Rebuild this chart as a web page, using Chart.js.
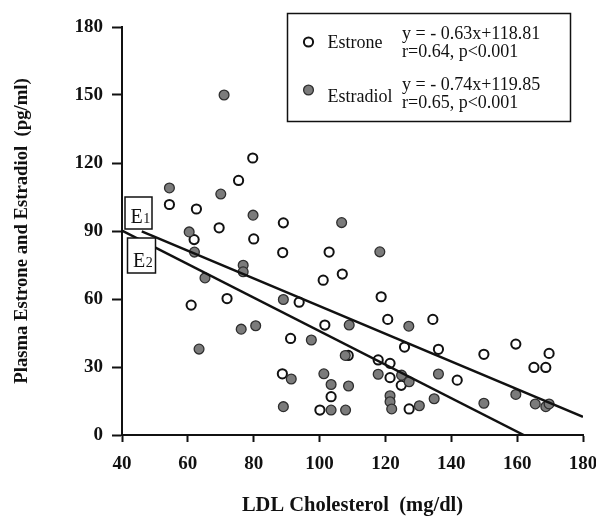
<!DOCTYPE html>
<html>
<head>
<meta charset="utf-8">
<script src="https://cdn.jsdelivr.net/npm/chart.js@4.4.1/dist/chart.umd.min.js"></script>
<style>
html,body{margin:0;padding:0;background:#fff;}
#wrap{position:relative;width:596px;height:516px;}
</style>
</head>
<body>
<div id="wrap"><canvas id="c" width="596" height="516"></canvas></div>
<script>
// ---- data ----
const xTicks = [40, 60, 80, 100, 120, 140, 160, 180];
const yTicks = [0, 30, 60, 90, 120, 150, 180];

const estroneX = [79.7, 75.4, 54.4, 62.6, 69.5, 61.9, 80.0, 61.0, 71.9, 89.0, 88.8, 102.9, 101.1, 106.9, 118.7, 93.8, 101.6, 120.7, 134.4, 91.2, 125.8, 136.1, 108.7, 117.8, 121.4, 88.7, 121.4, 124.8, 103.5, 100.1, 127.2, 141.8, 149.9, 159.6, 169.7, 165.1, 168.7];
const estroneY = [122.2, 112.3, 101.7, 99.7, 91.4, 86.2, 86.5, 57.3, 60.2, 93.6, 80.5, 80.7, 68.3, 71.0, 61.0, 58.6, 48.5, 51.0, 51.0, 42.6, 38.8, 37.8, 35.1, 33.1, 31.6, 27.0, 25.3, 21.9, 16.9, 11.0, 11.5, 24.2, 35.6, 40.1, 36.0, 29.8, 29.8];

const estradiolX = [71.0, 54.4, 70.0, 79.8, 60.4, 62.0, 76.8, 76.8, 65.2, 76.2, 80.6, 63.4, 106.7, 118.3, 89.0, 109.0, 127.1, 97.5, 107.8, 91.4, 101.3, 117.8, 124.9, 127.2, 136.1, 103.5, 108.8, 89.0, 103.5, 107.9, 121.4, 121.4, 121.9, 130.3, 134.8, 149.9, 159.6, 165.5, 168.7, 169.7];
const estradiolY = [150.0, 109.0, 106.3, 97.0, 89.6, 80.7, 74.9, 72.0, 69.3, 46.7, 48.2, 37.9, 93.7, 80.8, 59.8, 48.5, 48.0, 41.9, 35.1, 24.7, 27.0, 26.8, 26.4, 23.5, 26.9, 22.3, 21.6, 12.5, 11.0, 11.0, 17.3, 14.7, 11.5, 12.9, 16.0, 14.0, 17.9, 13.7, 12.5, 13.7];

// regression lines as drawn (end points)
const estroneLineX = [46, 180];
const estroneLineY = [89.8, 8];
const estradiolLineX = [40, 162];
const estradiolLineY = [90.2, 0];

const seriesNames = ["Estrone", "Estradiol"];
const equations = ["y = - 0.63x+118.81", "y = - 0.74x+119.85"];
const stats = ["r=0.64, p<0.001", "r=0.65, p<0.001"];
const lineTags = [["E", "1"], ["E", "2"]];

const xTitle = "LDL Cholesterol  (mg/dl)";
const yTitle = "Plasma Estrone and Estradiol  (pg/ml)";

// ---- helpers ----
const zip = (xs, ys) => xs.map((x, i) => ({x: x, y: ys[i]}));
const SERIF = "'Liberation Serif', 'Times New Roman', serif";

const openStyle = {bg: '#ffffff', border: '#111111', bw: 2, r: 4.6};
const fillStyle = {bg: '#7b7b7b', border: '#2e2e2e', bw: 1.3, r: 4.9};

function drawMarker(ctx, x, y, s) {
  ctx.beginPath();
  ctx.arc(x, y, s.r, 0, Math.PI * 2);
  ctx.fillStyle = s.bg;
  ctx.fill();
  ctx.lineWidth = s.bw;
  ctx.strokeStyle = s.border;
  ctx.stroke();
}

const annotations = {
  id: 'annotations',
  afterDatasetsDraw(chart) {
    const ctx = chart.ctx;
    const xs = chart.scales.x, ys = chart.scales.y;
    ctx.save();
    // E1 / E2 tag boxes at the start of the regression lines
    const x0 = xs.getPixelForValue(40);
    const y90 = ys.getPixelForValue(90);
    const boxes = [
      {dx: 3, dy: -34, w: 27, h: 32},
      {dx: 5.5, dy: 7, w: 28, h: 35}
    ];
    boxes.forEach((b, i) => {
      const bx = x0 + b.dx, by = y90 + b.dy;
      ctx.fillStyle = '#fff';
      ctx.fillRect(bx, by, b.w, b.h);
      ctx.lineWidth = 1.5;
      ctx.strokeStyle = '#111';
      ctx.strokeRect(bx, by, b.w, b.h);
      ctx.fillStyle = '#111';
      ctx.textBaseline = 'alphabetic';
      ctx.textAlign = 'left';
      ctx.font = "20px " + SERIF;
      const base = by + b.h - 6.5;
      ctx.fillText(lineTags[i][0], bx + 5.5, base);
      const ew = ctx.measureText(lineTags[i][0]).width;
      ctx.font = "14px " + SERIF;
      ctx.fillText(lineTags[i][1], bx + 5.5 + ew + 0.5, base);
    });

    // legend box
    const L = 287.5, T = 13.5, W = 283, H = 108;
    ctx.fillStyle = '#fff';
    ctx.fillRect(L, T, W, H);
    ctx.lineWidth = 1.5;
    ctx.strokeStyle = '#111';
    ctx.strokeRect(L, T, W, H);
    const rows = [
      {my: 42, nameBase: 48, eqBase: 38.5, stBase: 56.5, style: openStyle},
      {my: 90, nameBase: 101.5, eqBase: 90, stBase: 108, style: fillStyle}
    ];
    rows.forEach((r, i) => {
      drawMarker(ctx, 308.5, r.my, r.style);
      ctx.fillStyle = '#111';
      ctx.font = "18px " + SERIF;
      ctx.textAlign = 'left';
      ctx.textBaseline = 'alphabetic';
      ctx.fillText(seriesNames[i], 327.5, r.nameBase);
      ctx.fillText(equations[i], 402, r.eqBase);
      ctx.fillText(stats[i], 402, r.stBase);
    });
    ctx.restore();
  }
};

new Chart(document.getElementById('c'), {
  type: 'scatter',
  data: {
    datasets: [
      {
        label: seriesNames[0],
        data: zip(estroneX, estroneY),
        pointRadius: openStyle.r,
        pointBackgroundColor: openStyle.bg,
        pointBorderColor: openStyle.border,
        pointBorderWidth: openStyle.bw,
        order: 3
      },
      {
        label: seriesNames[1],
        data: zip(estradiolX, estradiolY),
        pointRadius: fillStyle.r,
        pointBackgroundColor: fillStyle.bg,
        pointBorderColor: fillStyle.border,
        pointBorderWidth: fillStyle.bw,
        order: 2
      },
      {
        label: 'Estrone fit',
        data: zip(estroneLineX, estroneLineY),
        showLine: true,
        pointRadius: 0,
        borderColor: '#111',
        borderWidth: 2.5,
        fill: false,
        order: 1
      },
      {
        label: 'Estradiol fit',
        data: zip(estradiolLineX, estradiolLineY),
        showLine: true,
        pointRadius: 0,
        borderColor: '#111',
        borderWidth: 2.5,
        fill: false,
        order: 1
      }
    ]
  },
  options: {
    responsive: false,
    devicePixelRatio: 1,
    animation: false,
    layout: {padding: {left: 0, right: 13, top: 27, bottom: 0}},
    plugins: {legend: {display: false}, tooltip: {enabled: false}},
    scales: {
      x: {
        type: 'linear',
        min: 40, max: 180,
        afterBuildTicks: s => { s.ticks = xTicks.map(v => ({value: v})); },
        afterFit: s => { s.height = 81; s.paddingLeft = 0; s.paddingRight = 0; },
        grid: {display: true, drawOnChartArea: false, drawTicks: true, tickLength: 7, tickColor: '#111', tickWidth: 2},
        border: {display: true, color: '#111', width: 2},
        ticks: {color: '#111', padding: 11, maxRotation: 0, autoSkip: false,
                font: {family: SERIF, size: 19, weight: 'bold'}},
        title: {display: true, text: xTitle, color: '#111', padding: {top: 0, bottom: 0},
                font: {family: SERIF, size: 20.5, weight: 'bold', lineHeight: 1}}
      },
      y: {
        type: 'linear',
        min: 0, max: 180,
        afterBuildTicks: s => { s.ticks = yTicks.map(v => ({value: v})); },
        afterFit: s => { s.width = 122; s.paddingTop = 0; s.paddingBottom = 0; },
        grid: {display: true, drawOnChartArea: false, drawTicks: true, tickLength: 10, tickColor: '#111', tickWidth: 2},
        border: {display: true, color: '#111', width: 2},
        ticks: {color: '#111', padding: 9, autoSkip: false,
                font: {family: SERIF, size: 19, weight: 'bold'}},
        title: {display: true, text: yTitle, color: '#111', padding: {top: 11, bottom: 0},
                font: {family: SERIF, size: 18.7, weight: 'bold', lineHeight: 1.2}}
      }
    }
  },
  plugins: [annotations]
});
</script>
</body>
</html>
